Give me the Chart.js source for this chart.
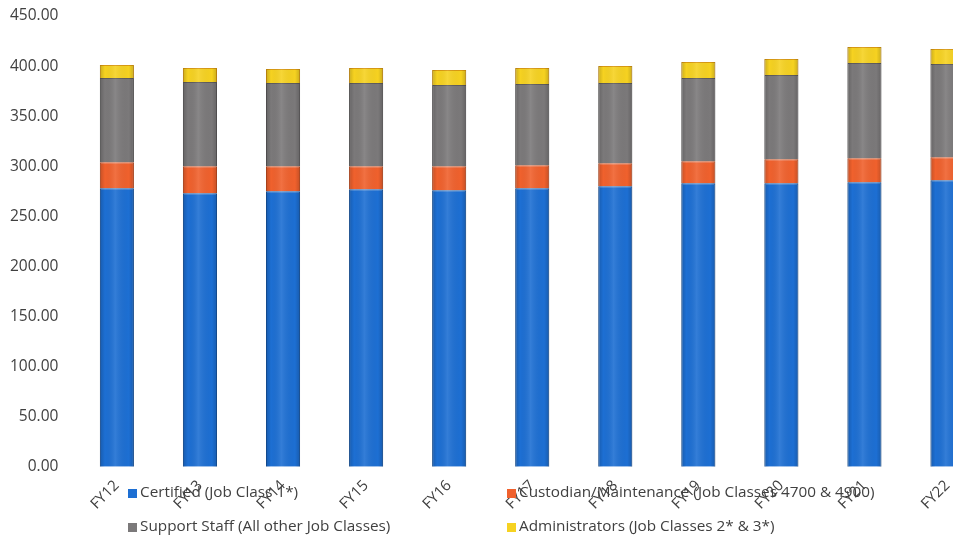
<!DOCTYPE html>
<html>
<head>
<meta charset="utf-8">
<script src="https://cdn.jsdelivr.net/npm/chart.js@4.4.1/dist/chart.umd.min.js"></script>
<style>
  html, body { margin: 0; padding: 0; background: #ffffff; overflow: hidden; }
  #wrap { position: relative; width: 989px; height: 540px; }
</style>
</head>
<body>
<div id="wrap"><canvas id="chart"></canvas></div>
<script>
// Staffing by fiscal year, stacked by job class group
const years = ['FY12', 'FY13', 'FY14', 'FY15', 'FY16', 'FY17', 'FY18', 'FY19', 'FY20', 'FY21', 'FY22'];
const certified      = [278, 273, 275, 277, 276, 278, 280, 283, 283, 284, 286];
const custodian      = [26, 27, 25, 23, 24, 23, 23, 22, 24, 24, 23];
const supportStaff   = [84, 84, 83, 83, 81, 81, 80, 83, 84, 95, 93];
const administrators = [13, 14, 14, 15, 15, 16, 17, 16, 16, 16, 15];
const yTicks = [0, 50, 100, 150, 200, 250, 300, 350, 400, 450];

const seriesNames = [
  'Certified (Job Class 1*)',
  'Custodian/Maintenance (Job Classes 4700 & 4900)',
  'Support Staff (All other Job Classes)',
  'Administrators (Job Classes 2* & 3*)'
];
const fills   = ['#1d6fd3', '#f0612d', '#7b797a', '#f6d221'];
const borders = ['#1758a8', '#c84e20', '#5e5c5d', '#d99a10'];

const FONT = '"Open Sans", "DejaVu Sans", sans-serif';

// Soft side shading on every bar segment, using the bar geometry from the chart
const barShade = {
  id: 'barShade',
  afterDatasetsDraw(chart) {
    const ctx = chart.ctx;
    ctx.save();
    chart.data.datasets.forEach((ds, di) => {
      chart.getDatasetMeta(di).data.forEach(bar => {
        const p = bar.getProps(['x', 'y', 'base', 'width'], true);
        const left = p.x - p.width / 2;
        const top = Math.min(p.y, p.base);
        const h = Math.abs(p.base - p.y);
        const g = ctx.createLinearGradient(left, 0, left + p.width, 0);
        g.addColorStop(0, 'rgba(0,0,0,0.18)');
        g.addColorStop(0.15, 'rgba(0,0,0,0)');
        g.addColorStop(0.45, 'rgba(255,255,255,0.10)');
        g.addColorStop(0.85, 'rgba(0,0,0,0)');
        g.addColorStop(1, 'rgba(0,0,0,0.18)');
        ctx.fillStyle = g;
        ctx.fillRect(left, top, p.width, h);
      });
    });
    ctx.restore();
  }
};

// Two-column legend drawn under the axis labels
const gridLegend = {
  id: 'gridLegend',
  afterDraw(chart) {
    const ctx = chart.ctx;
    const cols = [128, 507];
    const rows = [493, 527];
    ctx.save();
    ctx.font = '15.3px ' + FONT;
    ctx.textBaseline = 'middle';
    ctx.textAlign = 'left';
    chart.data.datasets.forEach((ds, i) => {
      const x = cols[i % 2];
      const y = rows[Math.floor(i / 2)];
      ctx.fillStyle = ds.backgroundColor;
      ctx.fillRect(x, y - 4, 9, 9);
      ctx.fillStyle = '#404040';
      ctx.fillText(ds.label, x + 12, y);
    });
    ctx.restore();
  }
};

const series = [certified, custodian, supportStaff, administrators];

new Chart(document.getElementById('chart'), {
  type: 'bar',
  data: {
    labels: years,
    datasets: series.map((values, i) => ({
      label: seriesNames[i],
      data: values,
      backgroundColor: fills[i],
      borderColor: borders[i],
      borderWidth: 1,
      barPercentage: 0.82,
      categoryPercentage: 0.5
    }))
  },
  options: {
    responsive: true,
    maintainAspectRatio: false,
    animation: false,
    layout: { padding: { top: 16, bottom: 25, left: 10, right: 0 } },
    plugins: {
      legend: { display: false },
      tooltip: { enabled: false }
    },
    scales: {
      x: {
        stacked: true,
        grid: { display: false },
        border: { display: false },
        afterFit(scale) {
          // rotated labels may overhang; let the layout padding decide the edges
          scale.paddingLeft = 0;
          scale.paddingRight = 0;
        },
        ticks: {
          color: '#404040',
          font: { family: FONT, size: 15 },
          minRotation: 45,
          maxRotation: 45,
          padding: 2
        }
      },
      y: {
        stacked: true,
        min: 0,
        max: 450,
        grid: { display: false, drawTicks: false },
        border: { display: false },
        afterBuildTicks(axis) {
          axis.ticks = yTicks.map(v => ({ value: v }));
        },
        afterFit(scale) {
          // tick padding is reserved on both sides of the labels; keep only the inner gap
          scale.width -= scale.options.ticks.padding;
          scale.paddingTop = 0;
          scale.paddingBottom = 0;
        },
        ticks: {
          color: '#404040',
          font: { family: FONT, size: 15.5 },
          padding: 17,
          callback: v => Number(v).toFixed(2)
        }
      }
    }
  },
  plugins: [barShade, gridLegend]
});
</script>
</body>
</html>
